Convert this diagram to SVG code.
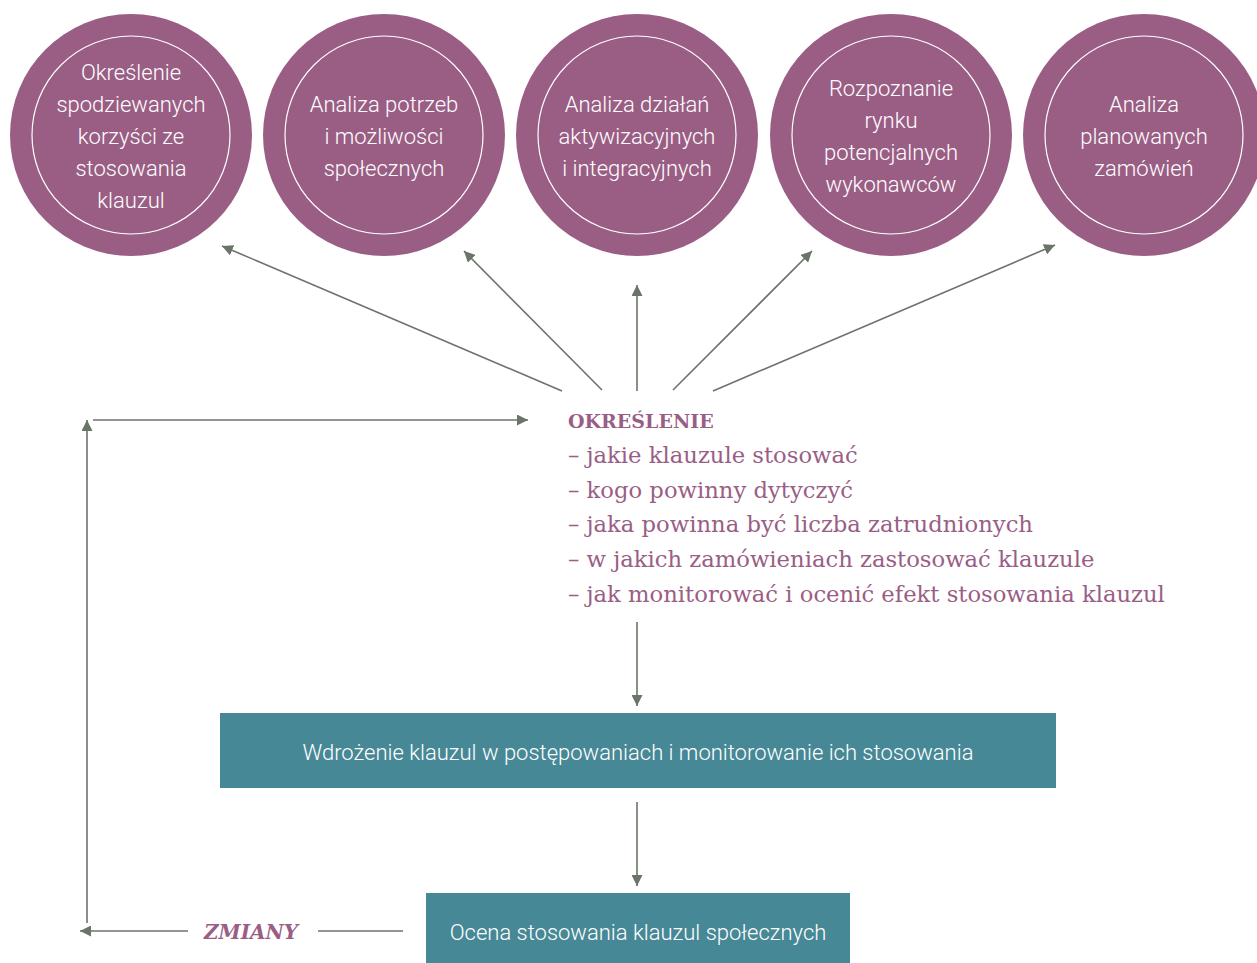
<svg xmlns="http://www.w3.org/2000/svg" width="1257" height="963" viewBox="0 0 1257 963">
<style>
.outer{fill:#9a5e85}
.inner{fill:none;stroke:#ffffff;stroke-width:1.2}
.ct{font-family:Roboto,"Open Sans",sans-serif;font-weight:300;font-size:22px;fill:#ffffff;text-anchor:middle}
.box{fill:#478896}
.bt{font-family:Roboto,"Open Sans",sans-serif;font-weight:300;font-size:22px;fill:#ffffff;text-anchor:middle}
.ln{fill:none;stroke:#6b7468;stroke-width:1.6}
.st{font-family:"DejaVu Serif",serif;font-size:22.7px;fill:#9a5e85}
.sh{font-family:"DejaVu Serif",serif;font-weight:bold;font-size:19px;fill:#9a5e85}
.zm{font-family:"DejaVu Serif",serif;font-weight:bold;font-style:italic;font-size:20px;fill:#9a5e85}
</style>
<defs>
<marker id="ah" viewBox="0 0 10 10" refX="10" refY="5" markerWidth="11" markerHeight="11" markerUnits="userSpaceOnUse" orient="auto">
<path d="M0,0 L10,5 L0,10 z" fill="#6b7468"/>
</marker>
</defs>
<g id="n1">
<circle class="outer" cx="131" cy="135" r="121"/>
<circle class="inner" cx="131" cy="135" r="99"/>
<text class="ct" x="131"><tspan x="131" y="80">Określenie</tspan><tspan x="131" y="112">spodziewanych</tspan><tspan x="131" y="144">korzyści ze</tspan><tspan x="131" y="176">stosowania</tspan><tspan x="131" y="208">klauzul</tspan></text>
</g>
<g id="n2">
<circle class="outer" cx="384" cy="135" r="121"/>
<circle class="inner" cx="384" cy="135" r="99"/>
<text class="ct"><tspan x="384" y="112">Analiza potrzeb</tspan><tspan x="384" y="144">i możliwości</tspan><tspan x="384" y="176">społecznych</tspan></text>
</g>
<g id="n3">
<circle class="outer" cx="637" cy="135" r="121"/>
<circle class="inner" cx="637" cy="135" r="99"/>
<text class="ct"><tspan x="637" y="112">Analiza działań</tspan><tspan x="637" y="144">aktywizacyjnych</tspan><tspan x="637" y="176">i integracyjnych</tspan></text>
</g>
<g id="n4">
<circle class="outer" cx="891" cy="135" r="121"/>
<circle class="inner" cx="891" cy="135" r="99"/>
<text class="ct"><tspan x="891" y="96">Rozpoznanie</tspan><tspan x="891" y="128">rynku</tspan><tspan x="891" y="160">potencjalnych</tspan><tspan x="891" y="192">wykonawców</tspan></text>
</g>
<g id="n5">
<circle class="outer" cx="1144" cy="135" r="121"/>
<circle class="inner" cx="1144" cy="135" r="99"/>
<text class="ct"><tspan x="1144" y="112">Analiza</tspan><tspan x="1144" y="144">planowanych</tspan><tspan x="1144" y="176">zamówień</tspan></text>
</g>
<g id="okreslenie">
<text class="sh" x="568" y="428">OKREŚLENIE</text>
<text class="st" x="568" y="463">– jakie klauzule stosować</text>
<text class="st" x="568" y="498">– kogo powinny dytyczyć</text>
<text class="st" x="568" y="532">– jaka powinna być liczba zatrudnionych</text>
<text class="st" x="568" y="567">– w jakich zamówieniach zastosować klauzule</text>
<text class="st" x="568" y="602">– jak monitorować i ocenić efekt stosowania klauzul</text>
</g>
<g id="wdrozenie">
<rect class="box" x="220" y="713" width="836" height="75"/>
<text class="bt" x="638" y="760">Wdrożenie klauzul w postępowaniach i monitorowanie ich stosowania</text>
</g>
<g id="ocena">
<rect class="box" x="426" y="893" width="424" height="70"/>
<text class="bt" x="638" y="940">Ocena stosowania klauzul społecznych</text>
</g>
<g id="zmiany">
<text class="zm" x="251" y="939" text-anchor="middle">ZMIANY</text>
</g>
<g id="connectors">
<line class="ln" x1="562" y1="391" x2="222" y2="246" marker-end="url(#ah)"/>
<line class="ln" x1="602" y1="390" x2="464" y2="251" marker-end="url(#ah)"/>
<line class="ln" x1="637" y1="391" x2="637" y2="285" marker-end="url(#ah)"/>
<line class="ln" x1="673" y1="390" x2="812" y2="251" marker-end="url(#ah)"/>
<line class="ln" x1="713" y1="391" x2="1055" y2="245" marker-end="url(#ah)"/>
<line class="ln" x1="637" y1="622" x2="637" y2="706" marker-end="url(#ah)"/>
<line class="ln" x1="637" y1="802" x2="637" y2="886" marker-end="url(#ah)"/>
<line class="ln" x1="403" y1="931" x2="318" y2="931"/>
<line class="ln" x1="188" y1="931" x2="80" y2="931" marker-end="url(#ah)"/>
<line class="ln" x1="87" y1="923" x2="87" y2="420" marker-end="url(#ah)"/>
<line class="ln" x1="93" y1="420" x2="528" y2="420" marker-end="url(#ah)"/>
</g>
</svg>
